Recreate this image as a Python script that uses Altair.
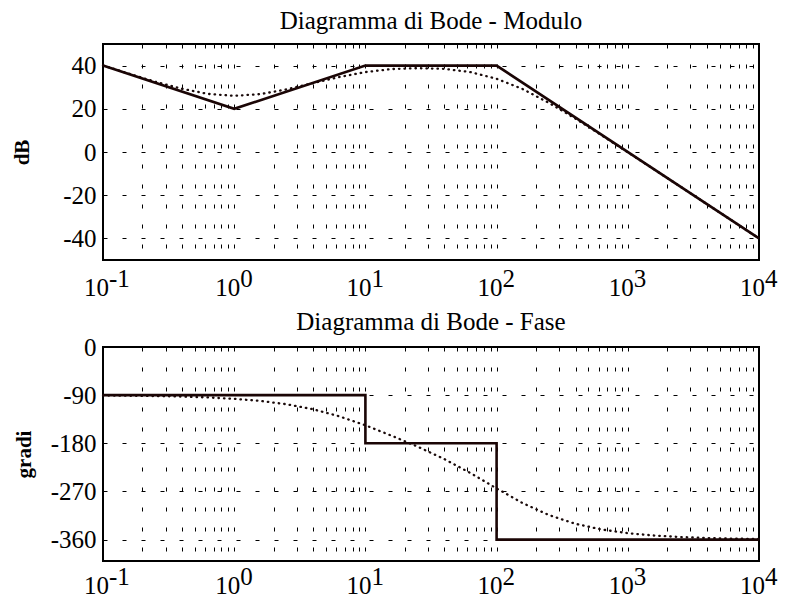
import altair as alt
import pandas as pd

FONT = "Liberation Serif"

# frequencies (rad/s) of the exact (dotted) curves
freq = [0.1, 0.1585, 0.2512, 0.3981, 0.631, 1, 1.585, 2.512, 3.981, 6.31,
        10, 15.85, 25.12, 39.81, 63.1, 100, 158.5, 251.2, 398.1, 631,
        1000, 1585, 2512, 3981, 6310, 10000]
mag_exact = [40.1, 36.2, 32.5, 29.3, 26.9, 26.0, 26.8, 29.0, 31.9, 34.7,
             37.0, 38.4, 38.8, 38.5, 37.0, 33.9, 29.1, 22.7, 15.5, 7.8,
             -0.1, -8.0, -16.0, -24.0, -32.0, -40.0]
phase_exact = [-90.7, -91.1, -91.7, -92.7, -94.3, -96.9, -100.8, -107.0, -116.3, -129.5,
               -146.4, -165.8, -186.5, -209.3, -235.5, -264.3, -291.9, -314.3, -330.4, -341.1,
               -348.0, -352.4, -355.2, -357.0, -358.1, -358.8]

# asymptotic (solid) diagrams
mag_asym_f = [0.1, 1, 10, 100, 10000]
mag_asym = [40, 20, 40, 40, -40]
phase_asym_f = [0.1, 10, 10, 100, 100, 10000]
phase_asym = [-90, -90, -180, -180, -360, -360]

# axes
decades = [0.1, 1, 10, 100, 1000, 10000]
exponents = ["-1", "0", "1", "2", "3", "4"]
grid_x = [m * d for d in [0.1, 1, 10, 100, 1000] for m in range(1, 10)] + [10000]
mag_ticks = [-40, -20, 0, 20, 40]
phase_ticks = [-360, -270, -180, -90, 0]

W = 656
H1 = 216
H2 = 214

df_mag = pd.DataFrame({"f": freq, "v": mag_exact})
df_ph = pd.DataFrame({"f": freq, "v": phase_exact})
df_mag_a = pd.DataFrame({"f": mag_asym_f, "v": mag_asym, "i": range(len(mag_asym))})
df_ph_a = pd.DataFrame({"f": phase_asym_f, "v": phase_asym, "i": range(len(phase_asym))})
df_dec = pd.DataFrame({"f": decades, "base": ["10"] * len(decades), "exp": exponents})

xscale = alt.Scale(type="log", domain=[0.1, 10000], nice=False)
xaxis = alt.Axis(values=grid_x, labels=False, ticks=False, domain=False, title=None,
                 grid=True, gridDash=[4, 16], gridColor="black", gridOpacity=1, gridWidth=1)


def panel(df_exact, df_asym, ytitle, ydomain, yticks, height, title, tpad, toff, loff):
    yaxis = alt.Axis(values=yticks, labelExpr="datum.value + ''", ticks=False, domain=False,
                     grid=True, gridDash=[4, 15], gridColor="black", gridOpacity=1, gridWidth=1,
                     labelFont=FONT, labelFontSize=25, labelColor="black", labelPadding=7,
                     title=ytitle, titleFont=FONT, titleFontSize=21, titleFontWeight="bold",
                     titlePadding=tpad, titleColor="black")
    yscale = alt.Scale(domain=ydomain, nice=False)
    exact = alt.Chart(df_exact).mark_line(
        strokeDash=[0.5, 5], strokeCap="round", strokeWidth=2.3, color="#1a0a0a"
    ).encode(x=alt.X("f:Q", scale=xscale, axis=xaxis), y=alt.Y("v:Q", scale=yscale, axis=yaxis))
    asym = alt.Chart(df_asym).mark_line(strokeWidth=2.6, color="#1a0505").encode(
        x="f:Q", y="v:Q", order="i:Q")
    lab10 = alt.Chart(df_dec).mark_text(
        align="right", baseline="alphabetic", dx=6, font=FONT, fontSize=25, color="black"
    ).encode(x="f:Q", y=alt.value(height + loff), text="base:N")
    labexp = alt.Chart(df_dec).mark_text(
        align="left", baseline="alphabetic", dx=6, font=FONT, fontSize=25, color="black"
    ).encode(x="f:Q", y=alt.value(height + loff - 9), text="exp:N")
    return alt.layer(exact, asym, lab10, labexp).properties(
        width=W, height=height,
        title=alt.TitleParams(title, font=FONT, fontSize=25, fontWeight="normal",
                              color="black", offset=toff, frame="group", anchor="middle"))


top = panel(df_mag, df_mag_a, "dB", [-50, 50], mag_ticks, H1, "Diagramma di Bode - Modulo", 30, 10, 36)
bot = panel(df_ph, df_ph_a, "gradi", [-400, 0], phase_ticks, H2, "Diagramma di Bode - Fase", 16, 0, 33)

chart = alt.vconcat(top, bot, spacing=7).properties(
    padding={"left": 2, "top": 0, "right": 0, "bottom": 0}
).configure(background="white").configure_view(stroke="black", strokeWidth=2)

chart.save("out.html", embed_options={"renderer": "svg", "actions": False})
